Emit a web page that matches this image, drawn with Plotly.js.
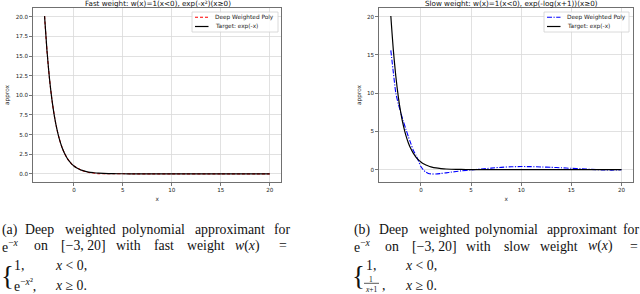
<!DOCTYPE html>
<html><head><meta charset="utf-8">
<script src="https://cdn.plot.ly/plotly-3.0.1.min.js"></script>
<style>html,body{margin:0;padding:0;background:#fff}#chart{width:640px;height:294px}</style>
</head><body><div id="chart"></div>
<script>
// ---- data ----
const xTarget = [-3,-2.75,-2.5,-2.25,-2,-1.75,-1.5,-1.25,-1,-0.75,-0.5,-0.25,0,0.25,0.5,0.75,1,1.5,2,2.5,3,4,5,6,8,10,15,20];
const yTarget = [20.09,15.64,12.18,9.49,7.39,5.75,4.48,3.49,2.72,2.12,1.65,1.28,1.0,0.78,0.61,0.47,0.37,0.22,0.14,0.08,0.05,0.02,0.01,0.0,0.0,0.0,0.0,0.0];
const xPolyFast = [-3,-2.75,-2.5,-2.25,-2,-1.75,-1.5,-1.25,-1,-0.75,-0.5,-0.25,0,0.25,0.5,0.75,1,1.5,2,2.5,3,4,5,6,8,10,15,20];
const yPolyFast = [20.09,15.64,12.18,9.49,7.39,5.75,4.48,3.49,2.72,2.12,1.65,1.28,1.0,0.8,0.66,0.47,0.35,0.18,0.1,0.02,0.01,0.02,0.01,0.0,0.0,0.0,0.0,0.0];
const xPolySlow = [-3,-2.75,-2.5,-2.25,-2,-1.75,-1.5,-1.25,-1,-0.75,-0.5,-0.25,0,0.25,0.5,0.75,1,1.5,2,2.5,3,4,5,6,7,8,9,10,11,12,13,14,15,16,17,18,19,20];
const yPolySlow = [15.6,12.7,10.0,8.6,7.4,6.3,5.3,4.3,3.4,2.5,1.9,1.15,0.4,-0.05,-0.33,-0.5,-0.56,-0.57,-0.5,-0.42,-0.33,-0.17,-0.04,0.08,0.2,0.3,0.37,0.4,0.39,0.35,0.3,0.24,0.17,0.1,0.03,-0.03,-0.06,-0.02];
const xTicks = [0,5,10,15,20];
const yTicksFast = [0,2.5,5,7.5,10,12.5,15,17.5,20];
const yTicksSlow = [0,5,10,15,20];
const seriesNames = ['Deep Weighted Poly','Target: exp(-x)'];
const plotTitles = ['Fast weight: w(x)=1(x<0), exp(-x\u00b2)(x\u22650)','Slow weight: w(x)=1(x<0), exp(-log(x+1))(x\u22650)'];

// ---- helpers (pixel -> paper) ----
const W = 640, H = 294;
const px = x => x / W;
const py = y => 1 - y / H;

const tickFont = {family:'DejaVu Sans', size:5.6, color:'#222'};
function axisBase(extra){
  return Object.assign({
    showline:true, mirror:true, linecolor:'#707070', linewidth:1,
    showgrid:true, gridcolor:'#dadada', gridwidth:0.8, zeroline:false,
    ticks:'outside', ticklen:3, tickwidth:0.8, tickcolor:'#555',
    tickfont:tickFont, fixedrange:true
  }, extra);
}

const traces = [
  {x:xPolyFast, y:yPolyFast, name:seriesNames[0], mode:'lines', line:{color:'#ff0000', width:1.1, dash:'3px,2px', shape:'spline', smoothing:0.7}, xaxis:'x', yaxis:'y', showlegend:false},
  {x:xTarget, y:yTarget, name:seriesNames[1], mode:'lines', line:{color:'#000', width:1.2, shape:'spline', smoothing:0.7}, xaxis:'x', yaxis:'y', showlegend:false},
  {x:xPolySlow, y:yPolySlow, name:seriesNames[0], mode:'lines', line:{color:'#0000ff', width:1.1, dash:'5px,1.5px,1.2px,1.5px', shape:'spline', smoothing:0.7}, xaxis:'x2', yaxis:'y2', showlegend:false},
  {x:xTarget, y:yTarget, name:seriesNames[1], mode:'lines', line:{color:'#000', width:1.2, shape:'spline', smoothing:0.7}, xaxis:'x2', yaxis:'y2', showlegend:false}
];

const axTitleFont = {family:'DejaVu Sans', size:5.8, color:'#222'};
const layout = {
  width:W, height:H, margin:{l:0,r:0,t:0,b:0}, paper_bgcolor:'#fff', plot_bgcolor:'#fff', showlegend:false,
  xaxis: axisBase({domain:[px(33.3),px(281)], range:[-4.15,21.15], tickvals:xTicks, anchor:'y', title:{text:'x', font:axTitleFont, standoff:4}}),
  yaxis: axisBase({domain:[py(181.7),py(8.2)], range:[-1.0,21.1], tickvals:yTicksFast, tickformat:'.1f', anchor:'x', title:{text:'approx', font:axTitleFont, standoff:5}}),
  xaxis2: axisBase({domain:[px(379.3),px(633)], range:[-4.15,21.15], tickvals:xTicks, anchor:'y2', title:{text:'x', font:axTitleFont, standoff:4}}),
  yaxis2: axisBase({domain:[py(181.7),py(8.2)], range:[-1.58,21.12], tickvals:yTicksSlow, anchor:'x2', title:{text:'approx', font:axTitleFont, standoff:5}}),
  shapes:[], annotations:[]
};

// titles
const titleFont = {family:'DejaVu Sans', size:7.2, color:'#111'};
layout.annotations.push({text:plotTitles[0], xref:'paper', yref:'paper', x:px(157.5), y:py(3), xanchor:'center', yanchor:'middle', showarrow:false, font:titleFont});
layout.annotations.push({text:plotTitles[1], xref:'paper', yref:'paper', x:px(511), y:py(3), xanchor:'center', yanchor:'middle', showarrow:false, font:titleFont});

// manual legends
const legFont = {family:'DejaVu Sans', size:5.8, color:'#222'};
function legend(x0, x1, y0, y1, polyColor, polyDash){
  layout.shapes.push({type:'rect', xref:'paper', yref:'paper', x0:px(x0), x1:px(x1), y0:py(y0), y1:py(y1), line:{color:'#d0d0d0', width:0.8}, fillcolor:'rgba(255,255,255,0.85)'});
  const rows = [y0+5.3, y0+14.5];
  layout.shapes.push({type:'line', xref:'paper', yref:'paper', x0:px(x0+3), x1:px(x0+16.5), y0:py(rows[0]), y1:py(rows[0]), line:{color:polyColor, width:1.1, dash:polyDash}});
  layout.shapes.push({type:'line', xref:'paper', yref:'paper', x0:px(x0+3), x1:px(x0+16.5), y0:py(rows[1]), y1:py(rows[1]), line:{color:'#000', width:1.2}});
  seriesNames.forEach((n,i)=>{
    layout.annotations.push({text:n, xref:'paper', yref:'paper', x:px(x0+20.5), y:py(rows[i]), xanchor:'left', yanchor:'middle', showarrow:false, font:legFont});
  });
}
legend(192, 278, 12, 32, '#ff0000', '3px,2px');
legend(544, 629, 12, 32, '#0000ff', '5px,1.5px,1.2px,1.5px');

// captions
const capFont = {family:'Liberation Serif', size:13.8, color:'#111'};
function cap(text, x, y, opts){
  layout.annotations.push(Object.assign({text:text, xref:'paper', yref:'paper', x:px(x), y:py(y), xanchor:'left', yanchor:'middle', showarrow:false, font:capFont}, opts||{}));
}
const small = s => ({font:Object.assign({}, capFont, {size:s})});
// (a)
[['(a)',0],['Deep',23],['weighted',63],['polynomial',120],['approximant',193],['for',272]].forEach(w=>cap(w[0], w[1], 229.5));
[['e<sup>\u2212<i>x</i></sup>',0],['on',32],['[\u22123, 20]',59],['with',114],['fast',152],['weight',185],['<i>w</i>(<i>x</i>)',233],['=',277]].forEach(w=>cap(w[0], w[1], 245.7));
cap('{', -1.5, 276, small(27));
cap('1,', 12, 265.5);
cap('<i>x</i> < 0,', 53, 265.5);
cap('e<sup>\u2212<i>x</i>\u00b2</sup>,', 12, 285);
cap('<i>x</i> \u2265 0.', 53, 285);
// (b)
[['(b)',352],['Deep',377],['weighted',417],['polynomial',473],['approximant',545],['for',621]].forEach(w=>cap(w[0], w[1], 229.5));
[['e<sup>\u2212<i>x</i></sup>',352],['on',383],['[\u22123, 20]',410],['with',464],['slow',502],['weight',538],['<i>w</i>(<i>x</i>)',586],['=',628]].forEach(w=>cap(w[0], w[1], 246.3));
cap('{', 350, 276, small(27));
cap('1,', 364, 265.5);
cap('<i>x</i> < 0,', 403, 265.5);
cap('1', 371, 279, Object.assign({xanchor:'center'}, small(7.5)));
layout.shapes.push({type:'line', xref:'paper', yref:'paper', x0:px(364), x1:px(379), y0:py(283.3), y1:py(283.3), line:{color:'#111', width:0.7}});
cap('<i>x</i>+1', 371.5, 289, Object.assign({xanchor:'center'}, small(7.5)));
cap(',', 380, 285);
cap('<i>x</i> \u2265 0.', 403, 285);

Plotly.newPlot('chart', traces, layout, {displayModeBar:false, staticPlot:true});
</script></body></html>
